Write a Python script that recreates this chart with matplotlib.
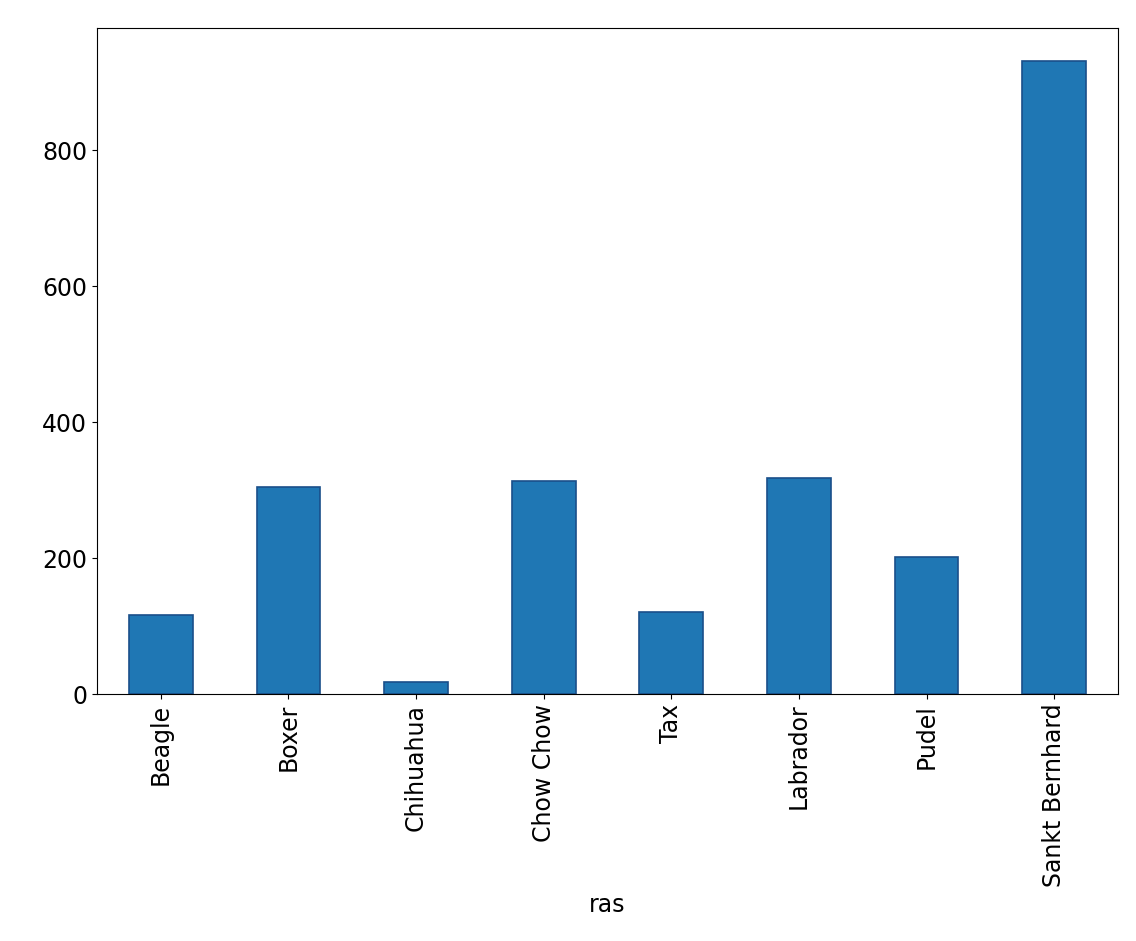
import matplotlib
matplotlib.use('Agg')
import matplotlib.pyplot as plt
import numpy as np

breeds = ['Beagle', 'Boxer', 'Chihuahua', 'Chow Chow', 'Tax', 'Labrador', 'Pudel', 'Sankt Bernhard']
values = [116, 305, 18, 314, 121, 318, 202, 931]

fig = plt.figure(figsize=(11.36, 9.41), dpi=100)
ax = fig.add_axes([97/1136, 1-694/941, (1118-97)/1136, (694-28)/941])
x = np.arange(len(breeds))
ax.bar(x, values, width=0.5, color='#1f77b4', edgecolor='#1a4f8a', linewidth=1.2)
ax.set_xlim(-0.5, len(breeds)-0.5)
ax.set_ylim(0, 980)
ax.set_xticks(x)
ax.set_xticklabels(breeds, rotation=90, fontsize=17)
ax.set_yticks([0, 200, 400, 600, 800])
ax.tick_params(axis='y', labelsize=17)
ax.set_xlabel('ras', fontsize=17)
fig.savefig('out.png', dpi=100)
